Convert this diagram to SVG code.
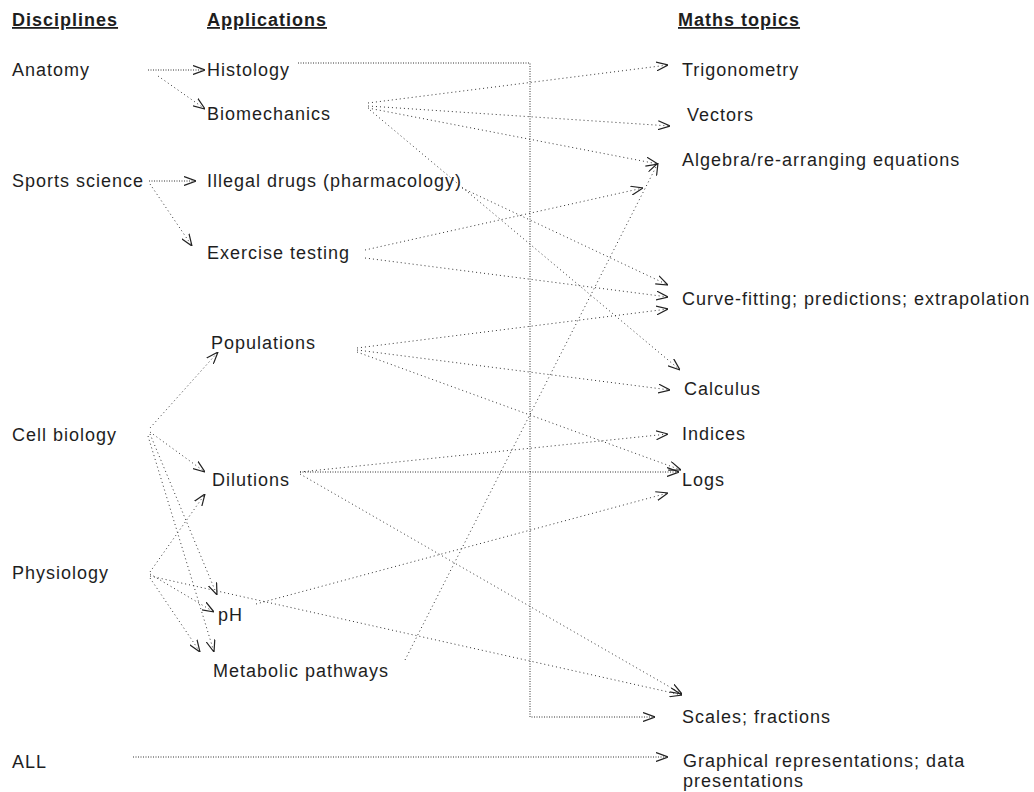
<svg xmlns="http://www.w3.org/2000/svg" width="1034" height="792" viewBox="0 0 1034 792">
<style>
text{font-family:"Liberation Sans",Arial,sans-serif;font-size:18px;letter-spacing:1px;fill:#1e1e1e}
.h{font-weight:bold;text-decoration:underline}
.c{fill:none;stroke:#333;stroke-width:1;stroke-dasharray:1 3;marker-end:url(#ar)}
.d{stroke-dasharray:1 1.5}
</style>
<defs>
<marker id="ar" viewBox="0 0 12 10" refX="12" refY="5" markerWidth="12" markerHeight="10" markerUnits="userSpaceOnUse" orient="auto">
<path d="M0,0.5 L12,5 L0,9.5" fill="none" stroke="#222" stroke-width="1.2"/>
</marker>
</defs>
<rect width="1034" height="792" fill="#fff"/>
<g id="headers">
<text class="h" x="12" y="26">Disciplines</text>
<text class="h" x="207" y="26">Applications</text>
<text class="h" x="678" y="26">Maths topics</text>
</g>
<g id="anatomy"><text x="12" y="76">Anatomy</text></g>
<g id="sports-science"><text x="12" y="187">Sports science</text></g>
<g id="cell-biology"><text x="12" y="441">Cell biology</text></g>
<g id="physiology"><text x="12" y="579">Physiology</text></g>
<g id="all"><text x="12" y="768">ALL</text></g>
<g id="histology"><text x="207" y="76">Histology</text></g>
<g id="biomechanics"><text x="207" y="120">Biomechanics</text></g>
<g id="illegal-drugs"><text x="207" y="187">Illegal drugs (pharmacology)</text></g>
<g id="exercise-testing"><text x="207" y="259">Exercise testing</text></g>
<g id="populations"><text x="211" y="349">Populations</text></g>
<g id="dilutions"><text x="212" y="486">Dilutions</text></g>
<g id="ph"><text x="218" y="621">pH</text></g>
<g id="metabolic-pathways"><text x="213" y="677">Metabolic pathways</text></g>
<g id="trigonometry"><text x="682" y="76">Trigonometry</text></g>
<g id="vectors"><text x="687" y="121">Vectors</text></g>
<g id="algebra"><text x="682" y="166">Algebra/re-arranging equations</text></g>
<g id="curve-fitting"><text x="682" y="305">Curve-fitting; predictions; extrapolation</text></g>
<g id="calculus"><text x="684" y="395">Calculus</text></g>
<g id="indices"><text x="682" y="440">Indices</text></g>
<g id="logs"><text x="682" y="486">Logs</text></g>
<g id="scales"><text x="682" y="723">Scales; fractions</text></g>
<g id="graphical"><text x="683" y="767">Graphical representations; data</text><text x="683" y="787">presentations</text></g>
<g id="connectors">
<path class="c d" d="M148,70 L205,70"/>
<path class="c" d="M158,76 L205,109"/>
<path class="c d" d="M149,181 L196,181"/>
<path class="c" d="M150,184 L192,246"/>
<path class="c" d="M150,428 L218,352"/>
<path class="c" d="M150,432 L205,472"/>
<path class="c" d="M150,434 L217,595"/>
<path class="c" d="M148,436 L214,652"/>
<path class="c" d="M150,572 L205,494"/>
<path class="c" d="M150,574 L214,612"/>
<path class="c" d="M150,578 L200,652"/>
<path class="c" d="M150,576 L682,695"/>
<path class="c d" d="M298,63 L530,63 L530,717 L655,717"/>
<path class="c" d="M368,103 L668,65"/>
<path class="c" d="M368,106 L670,126"/>
<path class="c" d="M368,108 L658,164"/>
<path class="c" d="M370,110 L680,370"/>
<path class="c" d="M462,188 L668,285"/>
<path class="c" d="M365,250 L643,188"/>
<path class="c" d="M365,258 L668,297"/>
<path class="c" d="M357,348 L668,309"/>
<path class="c" d="M357,350 L670,390"/>
<path class="c" d="M357,352 L681,470"/>
<path class="c" d="M300,472 L668,434"/>
<path class="c d" d="M300,472 L679,472"/>
<path class="c" d="M300,474 L682,694"/>
<path class="c" d="M256,604 L668,493"/>
<path class="c" d="M405,660 L658,163"/>
<path class="c d" d="M133,757 L668,757"/>
</g>
</svg>
